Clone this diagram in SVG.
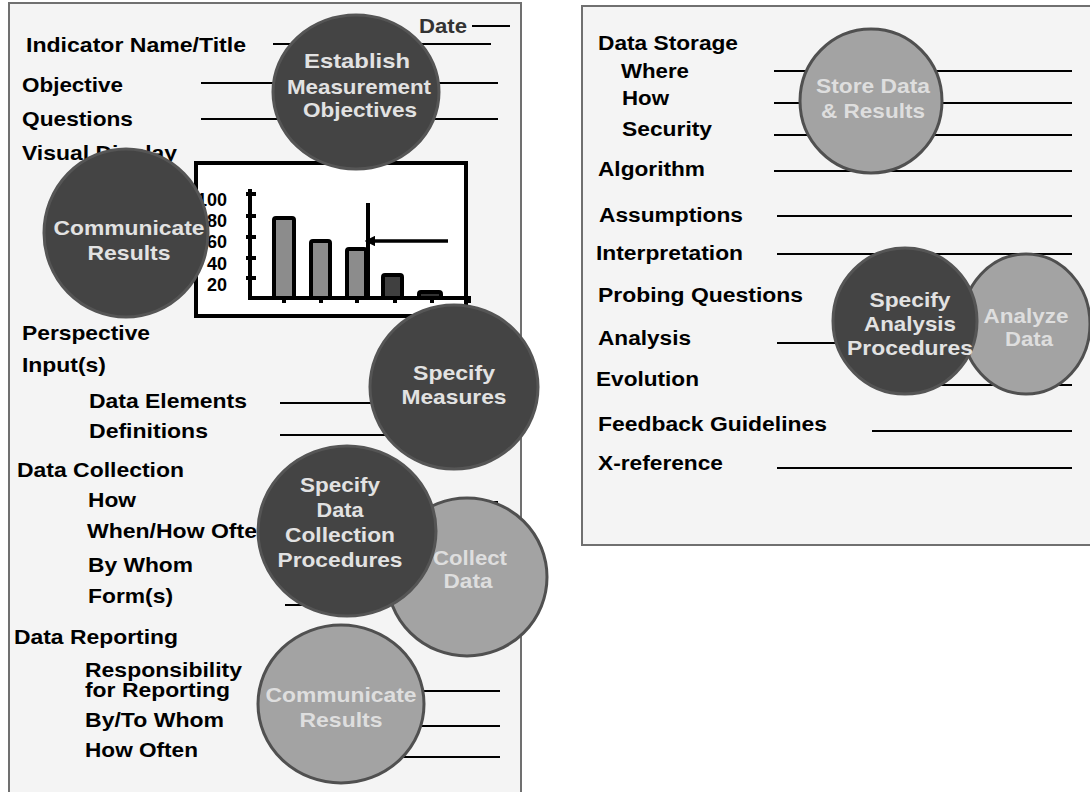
<svg xmlns="http://www.w3.org/2000/svg" width="1090" height="792" viewBox="0 0 1090 792">
<style>
.panel{fill:#f4f4f4;stroke:#707070;stroke-width:2}
.lbl{font-family:"Liberation Sans",Arial,sans-serif;font-weight:bold;font-size:21px;fill:#000}
.rl{font-size:20px}
.ln{stroke:#000;stroke-width:2;fill:none}
.dark{fill:#444;stroke:#555;stroke-width:3}
.light{fill:#a3a3a3;stroke:#505050;stroke-width:3}
.ct{font-family:"Liberation Sans",Arial,sans-serif;font-weight:bold;font-size:21px;fill:#e2e2e2;text-anchor:middle}
.ax{stroke:#000;stroke-width:4;fill:none}
.bar{stroke:#000;stroke-width:4}
.num{font-family:"Liberation Sans",Arial,sans-serif;font-weight:bold;font-size:18px;fill:#000;text-anchor:end}
</style>
<defs>
<marker id="ah" viewBox="0 0 10 10" refX="2" refY="5" markerWidth="3" markerHeight="3" orient="auto-start-reverse"><path d="M0,0 L10,5 L0,10 z" fill="#000"/></marker>
</defs>
<rect width="1090" height="792" fill="#ffffff"/>
<g id="panel-left"><rect class="panel" x="9" y="3" width="512" height="800"/></g>
<g id="panel-right"><rect class="panel" x="582" y="6" width="520" height="539"/></g>

<g id="labels-left">
<text class="lbl" x="419" y="33" style="fill:#333" textLength="48" lengthAdjust="spacingAndGlyphs">Date</text>
<text class="lbl" x="26" y="52" textLength="220" lengthAdjust="spacingAndGlyphs">Indicator Name/Title</text>
<text class="lbl" x="22" y="92" textLength="101" lengthAdjust="spacingAndGlyphs">Objective</text>
<text class="lbl" x="22" y="126" textLength="111" lengthAdjust="spacingAndGlyphs">Questions</text>
<text class="lbl" x="22" y="160" textLength="155" lengthAdjust="spacingAndGlyphs">Visual Display</text>
<text class="lbl" x="22" y="340" textLength="128" lengthAdjust="spacingAndGlyphs">Perspective</text>
<text class="lbl" x="22" y="372" textLength="84" lengthAdjust="spacingAndGlyphs">Input(s)</text>
<text class="lbl" x="89" y="408" textLength="158" lengthAdjust="spacingAndGlyphs">Data Elements</text>
<text class="lbl" x="89" y="438" textLength="119" lengthAdjust="spacingAndGlyphs">Definitions</text>
<text class="lbl" x="17" y="477" textLength="167" lengthAdjust="spacingAndGlyphs">Data Collection</text>
<text class="lbl" x="88" y="507" textLength="48" lengthAdjust="spacingAndGlyphs">How</text>
<text class="lbl" x="87" y="538" textLength="184" lengthAdjust="spacingAndGlyphs">When/How Often</text>
<text class="lbl" x="88" y="572" textLength="105" lengthAdjust="spacingAndGlyphs">By Whom</text>
<text class="lbl" x="88" y="603" textLength="85" lengthAdjust="spacingAndGlyphs">Form(s)</text>
<text class="lbl" x="14" y="644" textLength="164" lengthAdjust="spacingAndGlyphs">Data Reporting</text>
<text class="lbl rl" x="85" y="677" textLength="157" lengthAdjust="spacingAndGlyphs">Responsibility</text>
<text class="lbl rl" x="85" y="697" textLength="145" lengthAdjust="spacingAndGlyphs">for Reporting</text>
<text class="lbl" x="85" y="727" textLength="139" lengthAdjust="spacingAndGlyphs">By/To Whom</text>
<text class="lbl" x="85" y="757" textLength="113" lengthAdjust="spacingAndGlyphs">How Often</text>
</g>

<g id="labels-right">
<text class="lbl rl" x="598" y="50" textLength="140" lengthAdjust="spacingAndGlyphs">Data Storage</text>
<text class="lbl rl" x="621" y="78" textLength="68" lengthAdjust="spacingAndGlyphs">Where</text>
<text class="lbl rl" x="622" y="105" textLength="47" lengthAdjust="spacingAndGlyphs">How</text>
<text class="lbl rl" x="622" y="136" textLength="90" lengthAdjust="spacingAndGlyphs">Security</text>
<text class="lbl rl" x="598" y="176" textLength="107" lengthAdjust="spacingAndGlyphs">Algorithm</text>
<text class="lbl rl" x="599" y="222" textLength="144" lengthAdjust="spacingAndGlyphs">Assumptions</text>
<text class="lbl rl" x="596" y="260" textLength="147" lengthAdjust="spacingAndGlyphs">Interpretation</text>
<text class="lbl rl" x="598" y="302" textLength="205" lengthAdjust="spacingAndGlyphs">Probing Questions</text>
<text class="lbl rl" x="598" y="345" textLength="93" lengthAdjust="spacingAndGlyphs">Analysis</text>
<text class="lbl rl" x="596" y="386" textLength="103" lengthAdjust="spacingAndGlyphs">Evolution</text>
<text class="lbl rl" x="598" y="431" textLength="229" lengthAdjust="spacingAndGlyphs">Feedback Guidelines</text>
<text class="lbl rl" x="598" y="470" textLength="125" lengthAdjust="spacingAndGlyphs">X-reference</text>
</g>

<g id="connectors">
<line class="ln" x1="472" y1="26" x2="510" y2="26"/>
<line class="ln" x1="273" y1="44" x2="491" y2="44"/>
<line class="ln" x1="201" y1="83" x2="498" y2="83"/>
<line class="ln" x1="201" y1="119" x2="498" y2="119"/>
<line class="ln" x1="280" y1="403" x2="498" y2="403"/>
<line class="ln" x1="280" y1="435" x2="498" y2="435"/>
<line class="ln" x1="470" y1="502" x2="498" y2="502"/>
<line class="ln" x1="285" y1="605" x2="498" y2="605"/>
<line class="ln" x1="330" y1="691" x2="500" y2="691"/>
<line class="ln" x1="330" y1="726" x2="500" y2="726"/>
<line class="ln" x1="330" y1="757" x2="500" y2="757"/>
<line class="ln" x1="774" y1="71" x2="1072" y2="71"/>
<line class="ln" x1="774" y1="103" x2="1072" y2="103"/>
<line class="ln" x1="774" y1="135" x2="1072" y2="135"/>
<line class="ln" x1="774" y1="171" x2="1072" y2="171"/>
<line class="ln" x1="777" y1="216" x2="1072" y2="216"/>
<line class="ln" x1="777" y1="254" x2="1072" y2="254"/>
<line class="ln" x1="777" y1="343" x2="1072" y2="343"/>
<line class="ln" x1="900" y1="385" x2="1072" y2="385"/>
<line class="ln" x1="872" y1="431" x2="1072" y2="431"/>
<line class="ln" x1="777" y1="468" x2="1072" y2="468"/>
</g>

<g id="chart">
<rect x="196" y="163" width="270" height="153" fill="#fff" stroke="#000" stroke-width="4"/>
<path class="ax" d="M250,189 V298 H471"/>
<path class="ax" d="M246,194 H256 M246,216 H256 M246,237 H256 M246,258 H256 M246,278 H256"/>
<path class="ax" d="M284,298 V303 M321,298 V303 M357,298 V303 M395,298 V303 M432,298 V303 M469,298 V303"/>
<rect class="bar" x="274" y="218" width="20" height="80" rx="2" fill="#8c8c8c"/>
<rect class="bar" x="311" y="241" width="19" height="57" rx="2" fill="#8c8c8c"/>
<rect class="bar" x="347" y="249" width="19" height="49" rx="2" fill="#8c8c8c"/>
<rect class="bar" x="383" y="275" width="19" height="23" rx="2" fill="#404040"/>
<rect class="bar" x="419" y="292" width="22" height="6" rx="2" fill="#333"/>
<line x1="368" y1="203" x2="368" y2="298" stroke="#000" stroke-width="4"/>
<line x1="448" y1="241" x2="373" y2="241" stroke="#000" stroke-width="3.5" marker-end="url(#ah)"/>
<text class="num" x="227" y="206">100</text>
<text class="num" x="227" y="227">80</text>
<text class="num" x="227" y="248">60</text>
<text class="num" x="227" y="270">40</text>
<text class="num" x="227" y="291">20</text>
</g>

<g id="node-establish">
<ellipse class="dark" cx="356" cy="92" rx="83" ry="77"/>
<text class="ct" x="357" y="68" textLength="106" lengthAdjust="spacingAndGlyphs">Establish</text>
<text class="ct" x="359" y="94" textLength="144" lengthAdjust="spacingAndGlyphs">Measurement</text>
<text class="ct" x="360" y="117" textLength="114" lengthAdjust="spacingAndGlyphs">Objectives</text>
</g>
<g id="node-communicate-1">
<ellipse class="dark" cx="126" cy="233" rx="82" ry="84"/>
<text class="ct" x="129" y="235" textLength="151" lengthAdjust="spacingAndGlyphs">Communicate</text>
<text class="ct" x="129" y="260" textLength="83" lengthAdjust="spacingAndGlyphs">Results</text>
</g>
<g id="node-specify-measures">
<ellipse class="dark" cx="454" cy="387" rx="84" ry="82"/>
<text class="ct" x="454" y="380" textLength="82" lengthAdjust="spacingAndGlyphs">Specify</text>
<text class="ct" x="454" y="404" textLength="105" lengthAdjust="spacingAndGlyphs">Measures</text>
</g>
<g id="node-collect-data">
<ellipse class="light" cx="467" cy="577" rx="80" ry="79"/>
<text class="ct" x="470" y="565" textLength="74" lengthAdjust="spacingAndGlyphs" style="fill:#dedede">Collect</text>
<text class="ct" x="468" y="588" textLength="49" lengthAdjust="spacingAndGlyphs" style="fill:#dedede">Data</text>
</g>
<g id="node-specify-collection">
<ellipse class="dark" cx="347" cy="531" rx="89" ry="85"/>
<text class="ct" x="340" y="492" textLength="80" lengthAdjust="spacingAndGlyphs">Specify</text>
<text class="ct" x="340" y="517" textLength="47" lengthAdjust="spacingAndGlyphs">Data</text>
<text class="ct" x="340" y="542" textLength="110" lengthAdjust="spacingAndGlyphs">Collection</text>
<text class="ct" x="340" y="567" textLength="125" lengthAdjust="spacingAndGlyphs">Procedures</text>
</g>
<g id="node-communicate-2">
<ellipse class="light" cx="341" cy="704" rx="83" ry="79"/>
<text class="ct" x="341" y="702" textLength="151" lengthAdjust="spacingAndGlyphs" style="fill:#dedede">Communicate</text>
<text class="ct" x="341" y="727" textLength="83" lengthAdjust="spacingAndGlyphs" style="fill:#dedede">Results</text>
</g>
<g id="node-store">
<ellipse class="light" cx="871" cy="101" rx="71" ry="72"/>
<text class="ct" x="873" y="93" textLength="114" lengthAdjust="spacingAndGlyphs" style="fill:#dedede">Store Data</text>
<text class="ct" x="873" y="118" textLength="104" lengthAdjust="spacingAndGlyphs" style="fill:#dedede">&amp; Results</text>
</g>
<g id="node-analyze">
<ellipse class="light" cx="1026" cy="324" rx="64" ry="70"/>
<text class="ct" x="1026" y="323" textLength="85" lengthAdjust="spacingAndGlyphs" style="fill:#dedede">Analyze</text>
<text class="ct" x="1029" y="346" textLength="48" lengthAdjust="spacingAndGlyphs" style="fill:#dedede">Data</text>
</g>
<g id="node-specify-analysis">
<ellipse class="dark" cx="905" cy="321" rx="72" ry="73"/>
<text class="ct" x="910" y="307" textLength="81" lengthAdjust="spacingAndGlyphs">Specify</text>
<text class="ct" x="910" y="331" textLength="92" lengthAdjust="spacingAndGlyphs">Analysis</text>
<text class="ct" x="910" y="355" textLength="126" lengthAdjust="spacingAndGlyphs">Procedures</text>
</g>
</svg>
